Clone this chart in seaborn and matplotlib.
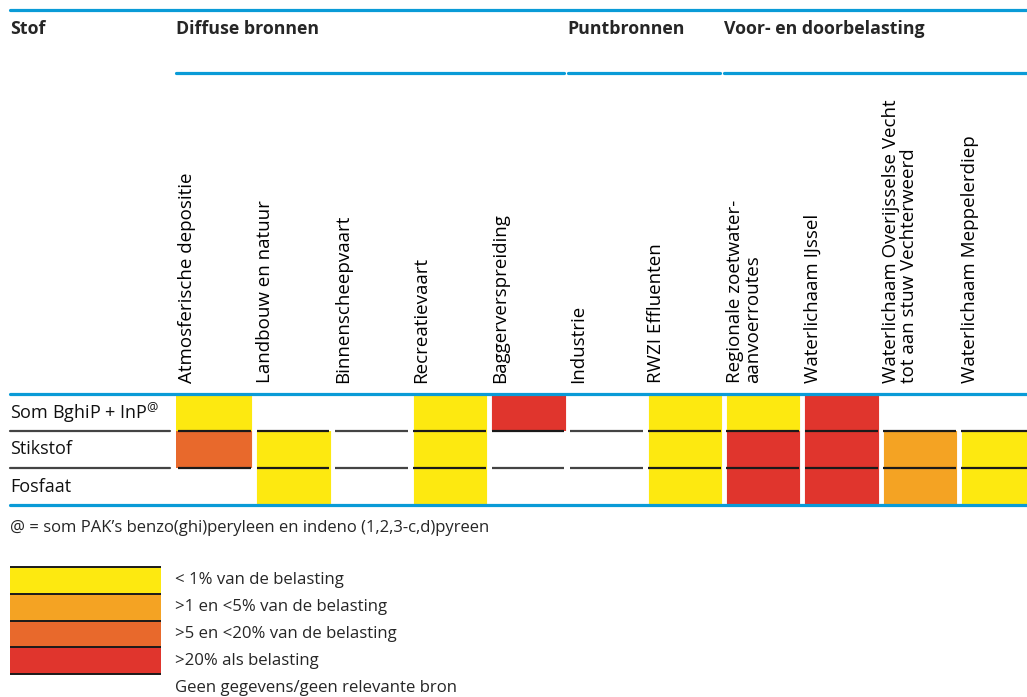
import numpy as np
import pandas as pd
import matplotlib
matplotlib.use("Agg")
import matplotlib.pyplot as plt
import matplotlib.transforms as mtransforms
from matplotlib.colors import ListedColormap
from matplotlib.lines import Line2D
import seaborn as sns

# -------------------------------
# Data
# -------------------------------
stoffen = ["Som BghiP + InP$^{@}$", "Stikstof", "Fosfaat"]
bronnen = [
    "Atmosferische depositie",
    "Landbouw en natuur",
    "Binnenscheepvaart",
    "Recreatievaart",
    "Baggerverspreiding",
    "Industrie",
    "RWZI Effluenten",
    "Regionale zoetwater-\naanvoerroutes",
    "Waterlichaam IJssel",
    "Waterlichaam Overijsselse Vecht\ntot aan stuw Vechterweerd",
    "Waterlichaam Meppelerdiep",
]
# 0 = geen gegevens, 1 = <1%, 2 = 1-5%, 3 = 5-20%, 4 = >20%
som_bghip_inp = [1, 0, 0, 1, 4, 0, 1, 1, 4, 0, 0]
stikstof = [3, 1, 0, 1, 0, 0, 1, 4, 4, 2, 1]
fosfaat = [0, 1, 0, 1, 0, 0, 1, 4, 4, 2, 1]

groepen = ["Diffuse bronnen", "Puntbronnen", "Voor- en doorbelasting"]
groep_start = [0, 5, 7]
groep_eind = [5, 7, 11]

legend_labels = [
    "< 1% van de belasting",
    ">1 en <5% van de belasting",
    ">5 en <20% van de belasting",
    ">20% als belasting",
    "Geen gegevens/geen relevante bron",
]
legend_codes = [1, 2, 3, 4]

colors = ["#FFFFFF", "#FDE910", "#F4A323", "#E8692C", "#E0352D"]
blue = "#0A9BD7"

df = pd.DataFrame([som_bghip_inp, stikstof, fosfaat], index=stoffen)

# -------------------------------
# Style
# -------------------------------
sns.set_theme(style="white")
plt.rcParams["font.family"] = ["Open Sans", "DejaVu Sans"]
plt.rcParams["mathtext.fontset"] = "custom"
plt.rcParams["mathtext.rm"] = "Open Sans"
plt.rcParams["mathtext.it"] = "Open Sans"

W, H = 1027, 697
fig = plt.figure(figsize=(W / 100, H / 100), dpi=100)
fig.patch.set_facecolor("white")


def fx(px):
    return px / W


def fy(py):
    return 1 - py / H


cmap = ListedColormap(colors)
col_w = 78.3

# -------------------------------
# Main table (heatmap)
# -------------------------------
ax = fig.add_axes([fx(176), fy(505), fx(col_w * 11), (505 - 394) / H])
sns.heatmap(df, ax=ax, cmap=cmap, vmin=-0.5, vmax=4.5, cbar=False,
            linewidths=0, xticklabels=False, yticklabels=False)
ax.set_xlabel("")
ax.set_ylabel("")
for s in ax.spines.values():
    s.set_visible(False)

# white gaps between the columns
ax.vlines(np.arange(1, len(bronnen)), 0, len(stoffen), colors="white", lw=3.5)

# row separators per column
for i in range(len(bronnen)):
    for r in [1, 2]:
        above = df.iloc[r - 1, i]
        below = df.iloc[r, i]
        c = "#1a1a1a" if (above or below) else "#444444"
        ax.hlines(r, i + 0.03, i + 0.96, colors=c, lw=1.6)

# column labels (rotated)
trans = mtransforms.blended_transform_factory(ax.transData, ax.transAxes)
for i, lab in enumerate(bronnen):
    ax.text(i + 0.02, 1 + 11 / 111, lab, transform=trans, rotation=90,
            ha="left", va="bottom", fontsize=13.5, color="black",
            linespacing=1.0)

# row labels
rtrans = mtransforms.blended_transform_factory(fig.transFigure, ax.transData)
for r, lab in enumerate(stoffen):
    ax.text(fx(10), r + 0.5, lab, transform=rtrans, ha="left", va="center",
            fontsize=13, color="#111111")
for r in [1, 2]:
    ax.add_line(Line2D([fx(10), fx(170)], [r, r], transform=rtrans,
                       color="#444444", lw=1.6, clip_on=False))

# -------------------------------
# Header and blue rules
# -------------------------------
def hline(x0, x1, y, color=blue, lw=2.3):
    fig.add_artist(Line2D([fx(x0), fx(x1)], [fy(y), fy(y)], color=color, lw=lw))


hline(10, 1027, 10)
hline(10, 1027, 394)
hline(10, 1027, 505)
fig.text(fx(10), fy(29), "Stof", ha="left", va="center", fontsize=12.8,
         fontweight="bold")
for g, s, e in zip(groepen, groep_start, groep_eind):
    x0 = 176 + s * col_w
    x1 = min(176 + e * col_w - 4, 1027)
    fig.text(fx(x0), fy(29), g, ha="left", va="center", fontsize=12.8,
             fontweight="bold")
    hline(x0, x1, 73)

# footnote
fig.text(fx(10), fy(528), "@ = som PAK\u2019s benzo(ghi)peryleen en indeno (1,2,3-c,d)pyreen",
         ha="left", va="center", fontsize=12)

# -------------------------------
# Legend
# -------------------------------
lax = fig.add_axes([fx(10), fy(674), fx(151), (674 - 567) / H])
sns.heatmap(pd.DataFrame({"code": legend_codes}), ax=lax, cmap=cmap,
            vmin=-0.5, vmax=4.5, cbar=False, linewidths=0,
            xticklabels=False, yticklabels=False)
lax.set_xlabel("")
lax.set_ylabel("")
lax.hlines(np.arange(0, len(legend_codes) + 1), 0, 1, colors="#1a1a1a",
           lw=1.4, clip_on=False)
for k, lab in enumerate(legend_labels):
    fig.text(fx(175), fy(580 + 27 * k), lab, ha="left", va="center",
             fontsize=12.1)

fig.savefig("out.png", dpi=100, facecolor="white")
